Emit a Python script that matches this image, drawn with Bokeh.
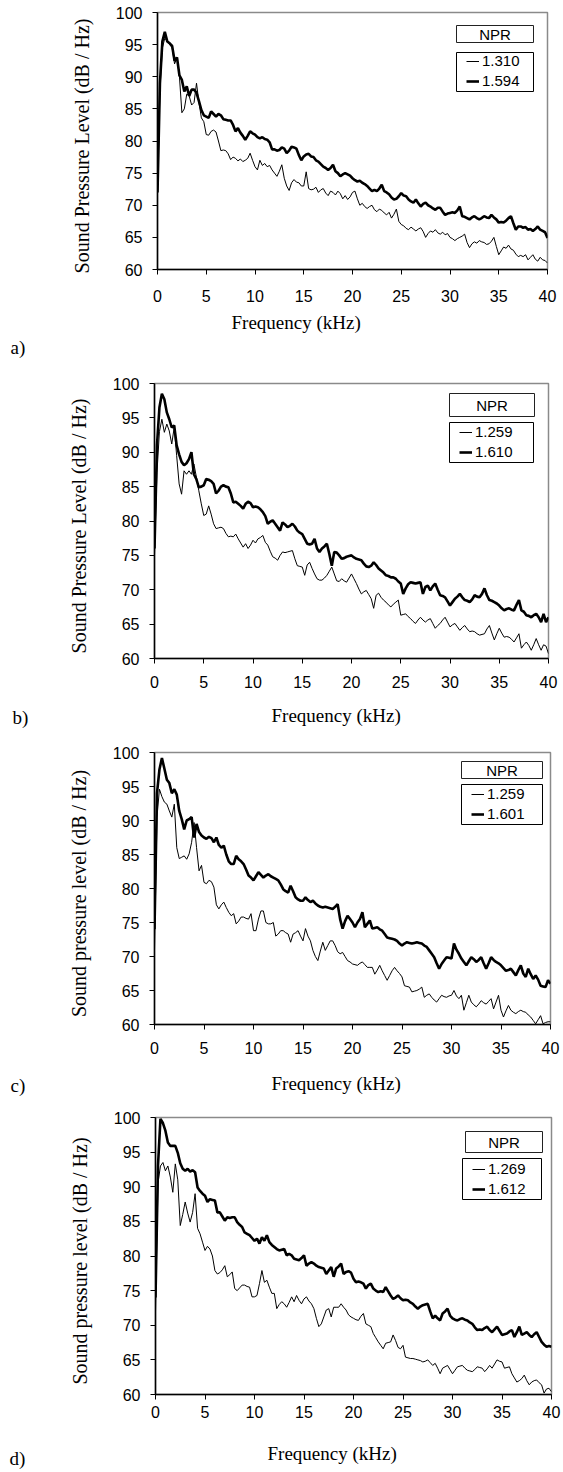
from bokeh.plotting import figure
from bokeh.models import Label, BoxAnnotation, Legend, LegendItem, FixedTicker, Range1d
from bokeh.layouts import column
from bokeh.embed import file_html
from bokeh.resources import INLINE

# ---------------- data ----------------
FREQ_STEP = 0.25
freq = [round(i * FREQ_STEP, 2) for i in range(161)]   # kHz, 0 .. 40

x_ticks = [0, 5, 10, 15, 20, 25, 30, 35, 40]
y_ticks = [60, 65, 70, 75, 80, 85, 90, 95, 100]

# panel a
a_labels = ["1.310", "1.594"]
a_low = [
    72.0, 88.0, 94.5, 96.0, 95.5, 95.0, 94.5, 92.0, 93.0, 90.0, 84.4, 85.0, 87.3, 87.0, 85.6, 86.0, 89.0, 86.0, 83.6, 83.0,
    81.0, 80.9, 81.5, 81.7, 81.4, 80.0, 78.5, 78.6, 78.5, 78.0, 77.1, 77.5, 77.3, 76.9, 77.2, 76.8, 77.0, 77.3, 78.1, 77.0,
    76.0, 75.5, 77.0, 76.2, 76.5, 76.0, 76.2, 75.5, 75.0, 74.5, 75.3, 76.3, 74.2, 73.0, 72.3, 73.5, 74.0, 73.6, 73.5, 73.0,
    73.0, 75.2, 72.6, 72.4, 72.5, 72.8, 72.0, 72.4, 72.6, 71.9, 71.5, 72.2, 72.0, 71.6, 72.2, 71.8, 71.0, 71.5, 70.9, 71.3,
    72.0, 72.2, 71.0, 70.0, 70.3, 69.8, 69.5, 69.8, 70.0, 69.3, 69.0, 69.4, 69.2, 68.8, 68.5, 68.9, 68.0, 68.6, 69.4, 67.5,
    67.0, 66.8, 66.4, 66.2, 66.6, 66.3, 66.0, 66.3, 66.5, 65.9, 65.0, 65.6, 66.0, 65.8, 66.2, 65.7, 65.5, 65.8, 65.4, 65.6,
    65.0, 64.8, 64.5, 64.8, 65.0, 65.2, 65.5, 64.2, 63.4, 64.0, 64.3, 64.1, 64.5, 64.3, 64.2, 63.9, 64.0, 64.4, 65.0, 63.6,
    62.3, 62.9, 63.5, 63.3, 63.8, 63.2, 63.0, 62.4, 62.0, 62.2, 62.0, 62.3, 61.5, 61.9, 62.3, 61.6, 61.3, 61.9, 61.5, 61.4,
    61.0]
a_high = [
    72.0, 89.0, 95.5, 97.0, 95.5, 95.2, 94.8, 92.5, 93.0, 90.2, 89.5, 87.7, 88.5, 87.0, 88.0, 88.0, 87.5, 86.2, 84.8, 84.0,
    83.8, 83.6, 84.6, 84.2, 83.8, 84.2, 84.0, 83.4, 83.3, 83.2, 83.2, 82.5, 81.5, 82.0, 81.3, 80.8, 80.2, 80.8, 81.5, 81.2,
    81.0, 80.6, 80.4, 80.6, 80.3, 80.2, 79.8, 78.7, 78.7, 78.5, 78.6, 79.0, 78.8, 78.1, 78.5, 79.1, 79.0, 78.8, 77.8, 77.0,
    77.6, 77.9, 78.0, 77.6, 77.5, 77.0, 76.8, 76.4, 76.0, 75.8, 75.5, 75.8, 76.3, 75.3, 75.0, 74.5, 74.8, 75.0, 74.8, 74.6,
    74.2, 73.9, 73.7, 73.8, 73.5, 73.3, 73.0, 72.6, 72.2, 72.4, 72.2, 72.6, 73.2, 72.2, 72.0, 71.7, 71.2, 70.9, 71.0, 71.4,
    71.9, 71.5, 71.4, 70.9, 70.6, 70.4, 70.9, 70.3, 69.8, 70.2, 70.4, 70.0, 69.8, 69.5, 69.3, 69.6, 69.6, 69.0, 68.5, 68.7,
    68.8, 68.9, 68.8, 69.2, 69.8, 68.3, 68.2, 68.0, 67.8, 68.1, 68.3, 68.0, 67.8, 68.0, 68.3, 68.1, 68.0, 68.5, 68.1, 67.8,
    67.3, 67.4, 67.3, 67.6, 68.0, 68.3, 67.2, 66.2, 66.7, 66.7, 66.5, 66.6, 66.2, 66.3, 66.0, 66.3, 66.7, 66.2, 66.0, 65.8,
    64.9]

# panel b
b_labels = ["1.259", "1.610"]
b_low = [
    75.0, 87.0, 93.0, 94.8, 92.9, 94.1, 93.1, 91.2, 93.6, 89.5, 85.4, 83.9, 87.3, 86.8, 87.3, 86.8, 88.3, 86.4, 84.4, 82.5,
    80.8, 81.0, 82.2, 81.0, 79.6, 78.9, 79.0, 79.1, 78.9, 78.2, 77.7, 77.8, 77.7, 78.1, 77.4, 76.8, 76.2, 76.7, 76.0, 76.5,
    77.2, 76.8, 77.4, 77.6, 77.9, 76.9, 76.5, 75.6, 74.8, 74.6, 74.3, 75.0, 75.5, 75.4, 75.5, 75.6, 75.7, 74.5, 73.5, 73.4,
    73.3, 72.1, 73.6, 74.0, 73.1, 72.3, 71.6, 71.4, 71.4, 71.7, 72.1, 72.7, 73.3, 72.3, 71.3, 71.2, 71.6, 71.3, 71.1, 71.7,
    72.3, 71.6, 70.9, 70.1, 69.4, 69.7, 69.9, 69.3, 68.7, 67.3, 69.2, 69.5, 68.9, 68.5, 68.2, 67.8, 67.5, 67.9, 68.2, 68.5,
    66.3, 66.4, 66.5, 66.1, 65.8, 65.4, 65.1, 65.6, 66.0, 65.6, 65.3, 65.6, 65.8, 65.1, 64.4, 64.8, 65.1, 65.6, 66.0, 65.3,
    64.6, 64.9, 65.1, 64.6, 64.1, 64.5, 64.8, 64.3, 63.9, 64.0, 63.9, 63.6, 63.4, 63.5, 63.6, 64.3, 64.8, 63.7, 62.7, 63.6,
    64.4, 63.7, 63.1, 63.2, 63.1, 62.8, 62.4, 63.0, 63.6, 61.5, 62.0, 62.4, 61.9, 61.2, 62.0, 62.9, 62.0, 61.2, 62.0, 61.8,
    60.7]
b_high = [
    76.0, 91.0, 96.5, 98.5, 97.7, 95.8, 94.8, 93.6, 93.9, 91.0, 89.7, 88.6, 88.1, 88.4, 89.0, 90.0, 86.8, 86.1, 84.9, 85.0,
    85.2, 86.1, 86.0, 85.8, 85.4, 84.0, 84.4, 85.0, 85.2, 85.0, 84.9, 84.0, 82.7, 82.8, 82.5, 82.2, 81.8, 82.5, 82.8, 82.6,
    82.0, 82.1, 82.0, 81.7, 81.3, 80.7, 79.6, 79.9, 80.1, 79.6, 79.1, 78.6, 79.8, 79.5, 79.1, 79.3, 79.6, 79.2, 78.6, 78.3,
    78.1, 77.4, 76.7, 76.6, 76.7, 77.4, 76.0, 75.5, 76.0, 76.3, 76.7, 75.2, 73.5, 75.5, 75.4, 75.0, 74.5, 74.6, 74.8, 74.9,
    75.0, 74.7, 74.5, 74.4, 74.3, 73.8, 73.4, 73.3, 73.5, 74.0, 73.6, 73.1, 72.8, 72.5, 72.1, 72.0, 71.8, 71.8, 71.6, 71.2,
    70.9, 69.4, 70.2, 70.8, 71.1, 71.0, 70.9, 71.0, 71.1, 69.4, 70.4, 70.6, 69.9, 70.5, 70.9, 70.0, 69.2, 69.1, 68.9, 68.3,
    67.7, 68.2, 68.7, 69.0, 69.4, 68.9, 68.5, 68.4, 68.2, 68.6, 69.2, 69.0, 68.9, 69.4, 70.2, 69.2, 68.5, 68.4, 68.2, 68.0,
    67.7, 67.3, 67.0, 67.2, 67.3, 67.1, 67.0, 67.8, 68.5, 67.0, 66.8, 66.3, 66.2, 66.0, 66.3, 66.5, 66.0, 65.3, 66.5, 65.3,
    66.0]

# panel c
c_labels = ["1.259", "1.601"]
c_low = [
    71.0, 90.5, 94.6, 93.5, 92.7, 92.4, 91.4, 90.5, 92.4, 86.0, 84.4, 84.6, 84.8, 84.3, 85.1, 86.8, 89.7, 86.0, 82.6, 83.4,
    80.9, 80.7, 81.2, 81.0, 80.2, 77.6, 77.0, 77.6, 78.0, 77.2, 76.5, 76.0, 76.3, 74.8, 75.2, 75.8, 75.8, 75.6, 75.5, 76.3,
    73.8, 73.8, 75.5, 76.7, 76.7, 75.0, 74.8, 74.8, 75.0, 73.0, 73.3, 73.8, 73.8, 73.5, 73.3, 72.1, 73.3, 73.5, 73.8, 73.0,
    72.3, 74.1, 73.0, 72.3, 70.9, 70.0, 69.4, 70.8, 72.1, 70.9, 71.6, 72.3, 72.3, 71.6, 70.7, 70.4, 70.6, 70.0, 69.4, 69.2,
    68.9, 68.8, 68.7, 69.0, 69.2, 68.8, 68.4, 68.4, 68.4, 67.4, 68.0, 68.7, 67.9, 67.2, 66.5, 67.2, 67.9, 68.4, 67.9, 67.5,
    67.0, 65.7, 65.6, 65.5, 64.8, 64.9, 65.0, 65.2, 65.5, 64.0, 64.3, 64.5, 64.0, 63.6, 63.3, 63.8, 64.3, 64.1, 64.0, 64.2,
    64.3, 65.0, 64.2, 63.8, 64.3, 62.1, 63.2, 64.3, 63.3, 62.9, 62.6, 63.0, 63.5, 63.2, 63.0, 63.4, 63.8, 62.3, 63.3, 64.3,
    62.1, 61.1, 62.0, 62.8, 62.1, 61.8, 61.6, 61.9, 62.1, 61.9, 61.8, 61.4, 61.1, 60.6, 60.1, 60.7, 61.3, 60.1, 60.3, 60.4,
    60.4]
c_high = [
    74.0, 94.0, 97.5, 99.2, 97.6, 96.0, 95.5, 94.0, 94.6, 93.8, 91.4, 90.2, 88.7, 90.0, 90.2, 90.5, 87.5, 89.5, 88.3, 87.8,
    87.5, 87.3, 87.6, 87.4, 86.8, 87.5, 86.4, 86.0, 86.3, 85.0, 84.0, 83.6, 83.6, 84.8, 84.3, 84.0, 83.6, 82.8, 81.9, 81.6,
    81.2, 81.8, 82.4, 82.0, 81.6, 81.9, 82.1, 81.8, 81.6, 81.4, 81.2, 80.6, 79.9, 79.6, 79.4, 80.4, 79.6, 78.7, 78.4, 78.2,
    78.2, 78.7, 78.3, 78.0, 78.2, 77.8, 77.5, 77.3, 77.2, 77.3, 77.2, 77.1, 77.0, 77.3, 77.7, 75.5, 74.1, 75.2, 76.0, 75.5,
    75.0, 74.3, 75.0, 75.5, 76.5, 74.3, 74.8, 75.3, 74.1, 74.2, 74.3, 74.0, 73.8, 73.3, 72.8, 72.7, 72.6, 72.5, 72.3, 71.9,
    71.6, 71.9, 72.1, 72.0, 71.9, 72.0, 72.1, 72.0, 71.9, 71.6, 71.4, 70.9, 70.4, 69.9, 69.0, 68.2, 68.9, 69.4, 69.9, 69.8,
    69.7, 71.9, 71.0, 70.4, 69.7, 69.2, 68.7, 69.3, 69.9, 69.6, 69.2, 69.5, 69.9, 69.0, 68.2, 69.0, 69.9, 69.5, 69.2, 69.0,
    68.7, 68.3, 67.9, 68.0, 68.2, 67.7, 67.2, 68.0, 68.7, 67.5, 67.0, 68.2, 67.4, 66.7, 67.2, 66.6, 65.7, 65.6, 65.5, 66.5,
    66.0]

# panel d
d_labels = ["1.269", "1.612"]
d_low = [
    72.0, 90.5, 93.0, 93.5, 92.3, 93.0, 91.4, 89.2, 93.3, 91.0, 84.4, 86.0, 87.8, 86.2, 84.9, 86.3, 89.0, 84.0, 83.2, 82.0,
    80.8, 81.4, 81.0, 80.0, 77.9, 77.4, 77.6, 78.0, 78.6, 77.0, 77.3, 77.7, 75.3, 75.0, 75.4, 75.8, 75.8, 75.6, 75.5, 74.1,
    74.1, 74.3, 76.0, 77.9, 76.2, 76.5, 75.5, 74.6, 74.6, 72.4, 73.0, 73.4, 73.1, 72.6, 73.3, 74.1, 73.4, 74.3, 73.6, 73.1,
    73.8, 74.1, 73.5, 73.1, 72.4, 71.0, 69.8, 70.2, 71.2, 72.2, 72.4, 71.2, 72.6, 72.6, 72.6, 73.1, 72.6, 72.2, 71.5, 71.2,
    71.0, 70.8, 70.7, 71.3, 71.7, 70.2, 70.0, 69.8, 68.8, 68.2, 67.6, 67.1, 66.6, 67.4, 67.5, 67.6, 68.6, 67.8, 66.8, 66.6,
    67.1, 65.4, 65.3, 65.2, 65.2, 65.1, 65.0, 64.9, 64.7, 64.8, 65.0, 64.6, 64.2, 64.5, 63.8, 63.0, 63.8, 64.0, 64.2, 63.6,
    63.0, 63.5, 64.0, 64.1, 64.2, 63.8, 63.5, 63.4, 63.3, 63.6, 64.0, 63.9, 63.8, 63.3, 63.7, 64.2, 63.8, 64.4, 65.0, 64.8,
    64.7, 63.8, 63.9, 64.0, 63.0, 62.4, 61.8, 62.0, 62.3, 62.8, 62.0, 61.4, 61.8, 62.0, 62.1, 61.7, 61.4, 60.2, 60.8, 60.9,
    60.4]
d_high = [
    74.0, 93.0, 99.8, 99.2, 98.1, 96.4, 95.9, 95.9, 95.9, 94.9, 93.4, 92.6, 92.3, 92.6, 92.2, 92.4, 92.1, 89.9, 89.4, 89.0,
    88.7, 87.8, 88.2, 88.1, 88.0, 86.3, 86.3, 85.7, 85.1, 85.6, 85.5, 85.6, 85.6, 84.9, 84.5, 84.2, 83.4, 83.2, 83.0, 82.6,
    82.2, 82.5, 81.8, 82.7, 82.2, 83.0, 82.0, 81.6, 81.3, 81.0, 80.8, 80.9, 81.0, 80.1, 80.3, 80.1, 79.6, 79.5, 79.4, 79.7,
    80.1, 78.6, 78.9, 79.1, 78.9, 78.6, 78.4, 78.3, 78.2, 77.4, 77.9, 78.4, 77.0, 78.2, 78.5, 78.9, 77.4, 77.7, 77.8, 77.6,
    76.7, 76.2, 76.3, 76.2, 76.0, 75.3, 75.8, 76.0, 75.3, 75.0, 74.8, 74.9, 74.8, 75.5, 74.9, 74.3, 73.8, 74.0, 74.3, 73.9,
    73.6, 73.7, 73.6, 73.3, 73.1, 72.7, 72.4, 72.7, 72.9, 73.0, 73.1, 72.0, 71.0, 71.4, 71.0, 70.7, 71.7, 72.0, 72.4, 71.4,
    71.0, 70.8, 70.7, 70.9, 71.0, 70.8, 70.7, 70.4, 70.2, 69.7, 69.3, 69.4, 69.3, 69.6, 69.8, 69.3, 69.0, 69.4, 69.8, 69.2,
    68.6, 68.7, 68.8, 69.1, 69.3, 68.3, 69.0, 69.8, 68.6, 68.8, 69.0, 68.6, 68.3, 68.7, 69.0, 68.3, 67.6, 67.2, 66.9, 67.0,
    66.9]

# ---------------- layout (pixels) ----------------
W = 563
panels = [
    dict(h=308, L=157, R=547, T=12, B=269, ylab="Sound  Pressure Level  (dB / Hz)", tag="a)",
         npr=(456, 533, 25, 42), box=(456, 533, 52, 91), x_ts=15,
         strip_h=50, f_xy=(231, 14), t_xy=(10, 39),
         low=a_low, high=a_high, labels=a_labels),
    dict(h=340, L=154, R=548, T=25, B=300, ylab="Sound  Pressure Level  (dB / Hz)", tag="b)",
         npr=(449, 534, 35, 58), box=(449, 533, 64, 104), x_ts=12,
         strip_h=30, f_xy=(271, 17), t_xy=(12, 19),
         low=b_low, high=b_high, labels=b_labels),
    dict(h=334, L=154, R=550, T=24, B=296, ylab="Sound  pressure level  (dB / Hz)", tag="c)",
         npr=(461, 542, 33, 50), box=(461, 542, 56, 96), x_ts=12,
         strip_h=38, f_xy=(271, 21), t_xy=(10, 23),
         low=c_low, high=c_high, labels=c_labels),
    dict(h=326, L=155, R=551, T=17, B=294, ylab="Sound  pressure level  (dB / Hz)", tag="d)",
         npr=(465, 542, 31, 52), box=(462, 541, 58, 99), x_ts=6,
         strip_h=46, f_xy=(267, 27), t_xy=(9, 32),
         low=d_low, high=d_high, labels=d_labels),
]

SANS = "Liberation Sans"
SERIF = "Liberation Serif"


def no_align(fig):
    try:
        fig.frame_align = False
    except Exception:
        pass


def bare_figure(w, h, xr, yr):
    f = figure(width=w, height=h, x_range=xr, y_range=yr, output_backend="svg",
               toolbar_location=None, min_border_left=0, min_border_right=0,
               min_border_top=0, min_border_bottom=0)
    f.title.visible = False
    f.axis.visible = False
    f.grid.visible = False
    f.outline_line_color = None
    f.background_fill_color = "white"
    f.border_fill_color = "white"
    no_align(f)
    return f


def make_panel(cfg):
    L, R, T, B, H = cfg["L"], cfg["R"], cfg["T"], cfg["B"], cfg["h"]

    def xd(px):
        return (px - L) / (R - L) * 40.0

    def yd(py):
        return 100.0 - (py - T) / (B - T) * 40.0

    p = figure(width=W, height=H, x_range=Range1d(0, 40), y_range=Range1d(60, 100),
               output_backend="svg", toolbar_location=None,
               min_border_left=L, min_border_right=W - R, min_border_top=T, min_border_bottom=H - B)
    no_align(p)
    p.title.visible = False
    p.xgrid.visible = False
    p.ygrid.visible = False
    p.background_fill_color = "white"
    p.border_fill_color = "white"
    p.outline_line_color = "#8a8a8a"
    p.outline_line_width = 1.5

    for ax in (p.xaxis[0], p.yaxis[0]):
        ax.axis_line_color = "black"
        ax.axis_line_width = 1.5
        ax.major_tick_line_color = "black"
        ax.major_tick_line_width = 1
        ax.major_tick_in = 0
        ax.major_tick_out = 5
        ax.minor_tick_line_color = None
        ax.major_label_text_font = SANS
        ax.major_label_text_font_size = "16px"
        ax.major_label_text_color = "black"
        ax.axis_label_text_font = SERIF
        ax.axis_label_text_font_size = "20px"
        ax.axis_label_text_font_style = "normal"
        ax.axis_label_text_color = "black"

    p.xaxis.ticker = FixedTicker(ticks=x_ticks)
    p.yaxis.ticker = FixedTicker(ticks=y_ticks)
    p.yaxis.axis_label = cfg["ylab"]
    p.xaxis.major_label_standoff = cfg["x_ts"]
    p.yaxis.major_label_standoff = 10
    p.yaxis.axis_label_standoff = 20

    r_low = p.line(freq, cfg["low"], line_color="black", line_width=1)
    r_high = p.line(freq, cfg["high"], line_color="black", line_width=2.6)

    # NPR header box
    nl, nr, nt, nb = cfg["npr"]
    p.add_layout(BoxAnnotation(left=xd(nl), right=xd(nr), top=yd(nt), bottom=yd(nb),
                               fill_alpha=0, line_color="#222222", line_width=1, line_alpha=1))
    p.add_layout(Label(x=xd((nl + nr) / 2), y=yd((nt + nb) / 2), text="NPR",
                       text_align="center", text_baseline="middle",
                       text_font=SANS, text_font_size="15px", text_color="black"))
    # legend entries box
    bl, br, bt, bb = cfg["box"]
    p.add_layout(BoxAnnotation(left=xd(bl), right=xd(br), top=yd(bt), bottom=yd(bb),
                               fill_alpha=0, line_color="black", line_width=1, line_alpha=1))
    legend = Legend(items=[LegendItem(label=cfg["labels"][0], renderers=[r_low]),
                           LegendItem(label=cfg["labels"][1], renderers=[r_high])],
                    location=(bl + 10 - L, B - (bb - 2)))
    legend.padding = 0
    legend.margin = 0
    legend.spacing = 3
    legend.border_line_alpha = 0
    legend.background_fill_alpha = 0
    legend.glyph_width = 13
    legend.glyph_height = 16
    legend.label_height = 16
    legend.label_standoff = 3
    legend.label_text_font = SANS
    legend.label_text_font_size = "15px"
    legend.label_text_color = "black"
    p.add_layout(legend)

    # strip under the panel: x-axis title and panel tag
    sh = cfg["strip_h"]
    s = bare_figure(W, sh, Range1d(0, W), Range1d(sh, 0))
    fx, fy = cfg["f_xy"]
    tx, ty = cfg["t_xy"]
    s.add_layout(Label(x=fx, y=fy, text="Frequency (kHz)", text_align="left", text_baseline="middle",
                       text_font=SERIF, text_font_size="19px", text_color="black"))
    s.add_layout(Label(x=tx, y=ty, text=cfg["tag"], text_align="left", text_baseline="middle",
                       text_font=SERIF, text_font_size="19px", text_color="black"))
    return [p, s]


children = []
for c in panels:
    children.extend(make_panel(c))
layout = column(*children, spacing=0)
open("out.html", "w").write(file_html(layout, INLINE))
